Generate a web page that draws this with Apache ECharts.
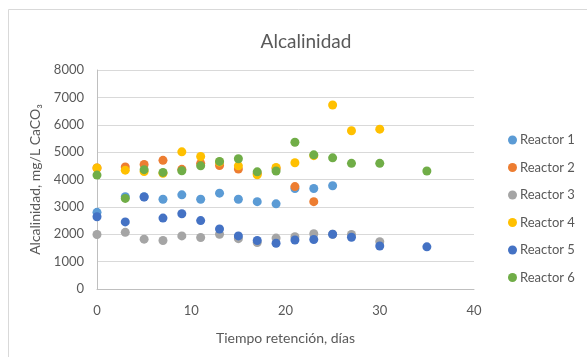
<!DOCTYPE html>
<html>
<head>
<meta charset="utf-8">
<script src="https://cdn.jsdelivr.net/npm/echarts@6/dist/echarts.min.js"></script>
<style>
  html, body { margin: 0; padding: 0; background: #fff; }
  #chart { width: 587px; height: 357px; }
</style>
</head>
<body>
<div id="chart"></div>
<script>
// Retention time (days) at which each sample was taken
const days = [0, 3, 5, 7, 9, 11, 13, 15, 17, 19, 21, 23, 25, 27, 30, 35];

// Alkalinity per reactor (mg/L CaCO3); null = no sample that day
const reactor1 = [2800, 3370, 3370, 3280, 3440, 3280, 3500, 3280, 3190, 3110, 3670, 3670, 3770, null, null, null];
const reactor2 = [4420, 4460, 4550, 4700, 4370, 4590, 4510, 4380, 4220, 4400, 3740, 3190, null, null, null, null];
const reactor3 = [1990, 2070, 1820, 1770, 1940, 1880, 2000, 1840, 1700, 1860, 1910, 2020, 2000, 1990, 1730, null];
const reactor4 = [4420, 4340, 4290, 4230, 5010, 4840, 4640, 4500, 4170, 4440, 4610, 4870, 6720, 5780, 5840, null];
const reactor5 = [2640, 2450, 3360, 2590, 2750, 2500, 2190, 1940, 1770, 1670, 1790, 1810, 2000, 1890, 1570, 1540];
const reactor6 = [4160, 3310, 4360, 4260, 4320, 4500, 4660, 4760, 4280, 4310, 5360, 4900, 4790, 4590, 4590, 4310];

const seriesNames = ['Reactor 1', 'Reactor 2', 'Reactor 3', 'Reactor 4', 'Reactor 5', 'Reactor 6'];
const seriesValues = [reactor1, reactor2, reactor3, reactor4, reactor5, reactor6];
const palette = ['#5B9BD5', '#ED7D31', '#A5A5A5', '#FFC000', '#4472C4', '#70AD47'];

const textColor = '#595959';
const fontFamily = 'Lato, "Liberation Sans", sans-serif';

function pairs(values) {
  const out = [];
  values.forEach((v, i) => { if (v !== null) out.push([days[i], v]); });
  return out;
}

const chart = echarts.init(document.getElementById('chart'), null, { renderer: 'canvas' });

chart.setOption({
  animation: false,
  backgroundColor: '#ffffff',
  color: palette,
  textStyle: { fontFamily: fontFamily, color: textColor },
  title: {
    text: 'Alcalinidad',
    left: 301,
    top: 27,
    textAlign: 'center',
    textStyle: { fontSize: 19, fontWeight: 'normal', color: textColor, fontFamily: fontFamily }
  },
  graphic: [{
    type: 'rect',
    shape: { x: 8.5, y: 9.5, width: 700, height: 500 },
    style: { fill: 'none', stroke: '#D9D9D9', lineWidth: 1 },
    silent: true
  }],
  grid: { left: 97, right: 113, top: 70, bottom: 68 },
  legend: {
    orient: 'vertical',
    left: 503,
    top: 128,
    icon: 'circle',
    itemWidth: 9,
    itemHeight: 9,
    itemGap: 13.5,
    textStyle: { fontSize: 13, color: textColor, fontFamily: fontFamily, lineHeight: 14, padding: [0, 0, 0, -2] },
    data: seriesNames
  },
  xAxis: {
    type: 'value',
    min: 0,
    max: 40,
    interval: 10,
    name: 'Tiempo retención, días',
    nameLocation: 'middle',
    nameGap: 42,
    nameTextStyle: { fontSize: 14, color: textColor, fontFamily: fontFamily },
    axisLine: { show: true, lineStyle: { color: '#BFBFBF', width: 1 } },
    axisTick: { show: false },
    axisLabel: { fontSize: 13, color: textColor, margin: 15, fontFamily: fontFamily },
    splitLine: { show: false }
  },
  yAxis: {
    type: 'value',
    min: 0,
    max: 8000,
    interval: 1000,
    name: 'Alcalinidad, mg/L CaCO₃',
    nameLocation: 'middle',
    nameGap: 45,
    nameTextStyle: { fontSize: 14, color: textColor, fontFamily: fontFamily },
    axisLine: { show: true, lineStyle: { color: '#BFBFBF', width: 1 } },
    axisTick: { show: false },
    axisLabel: { fontSize: 13, color: textColor, margin: 13, fontFamily: fontFamily, formatter: v => String(v) },
    splitLine: { show: true, lineStyle: { color: '#D9D9D9', width: 1 } }
  },
  series: seriesNames.map((name, i) => ({
    name: name,
    type: 'scatter',
    symbol: 'circle',
    symbolSize: 9,
    itemStyle: { color: palette[i], opacity: 1 },
    data: pairs(seriesValues[i])
  }))
});
</script>
</body>
</html>
